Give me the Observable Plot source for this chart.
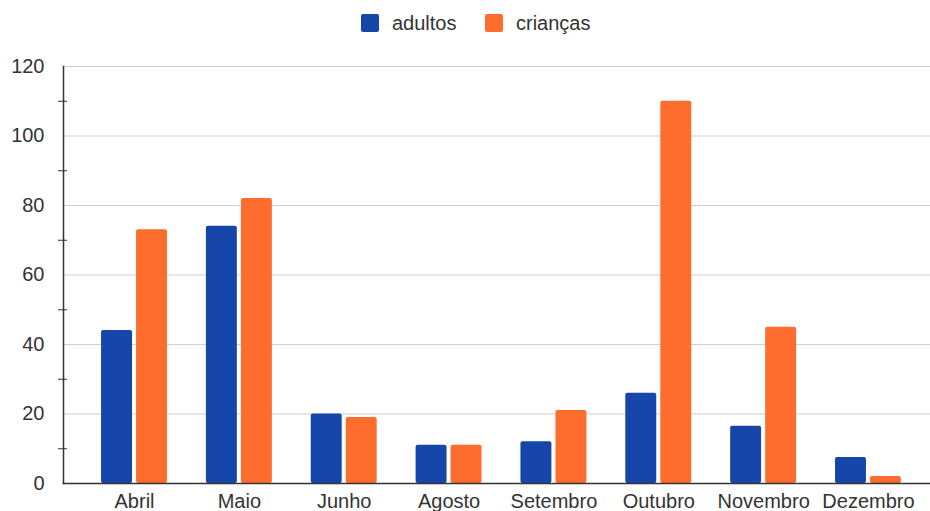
<!DOCTYPE html>
<html>
<head>
<meta charset="utf-8">
<script src="https://cdn.jsdelivr.net/npm/d3@7"></script>
<script src="https://cdn.jsdelivr.net/npm/@observablehq/plot@0.6"></script>
<style>
  body { margin: 0; background: #fff; font-family: "Liberation Sans", Arial, sans-serif; }
  #legend { height: 46px; position: relative; }
  .item { position: absolute; top: 14px; display: flex; align-items: center; font-size: 20px; color: #333; line-height: 18px; }
  .sw { width: 18px; height: 18px; border-radius: 2px; margin-right: 13px; }
</style>
</head>
<body>
<div id="legend"></div>
<div id="chart"></div>
<script>
const months = ["Abril", "Maio", "Junho", "Agosto", "Setembro", "Outubro", "Novembro", "Dezembro"];
const adultos = [44, 74, 20, 11, 12, 26, 16.5, 7.5];
const criancas = [73, 82, 19, 11, 21, 110, 45, 2];
const seriesNames = ["adultos", "crianças"];
const seriesColors = ["#1746ab", "#ff6d2e"];
const majorTicks = [0, 20, 40, 60, 80, 100, 120];
const minorTicks = [10, 30, 50, 70, 90, 110];

const dataA = months.map((m, i) => ({month: m, value: adultos[i]}));
const dataC = months.map((m, i) => ({month: m, value: criancas[i]}));

// legend
const legend = document.getElementById("legend");
const legendLeft = [361, 485];
seriesNames.forEach((s, i) => {
  const it = document.createElement("div");
  it.className = "item";
  it.style.left = legendLeft[i] + "px";
  it.innerHTML = `<div class="sw" style="background:${seriesColors[i]}"></div><span>${s}</span>`;
  legend.appendChild(it);
});

const chart = Plot.plot({
  width: 930,
  height: 465,
  marginTop: 20,
  marginBottom: 28,
  marginLeft: 63,
  marginRight: 0,
  style: {fontFamily: "'Liberation Sans', Arial, sans-serif", fontSize: "20px", color: "#333", background: "#fff"},
  x: {domain: months, paddingInner: 0.371, paddingOuter: 0.32, align: 0.567, round: false},
  y: {domain: [0, 120]},
  marks: [
    Plot.gridY(majorTicks.filter(d => d > 0), {stroke: "#cfcfcf", strokeOpacity: 1, strokeWidth: 1}),
    Plot.barY(dataA, {x: "month", y: "value", fill: seriesColors[0], insetRight: 35, rx: 2}),
    Plot.barY(dataC, {x: "month", y: "value", fill: seriesColors[1], insetLeft: 35, rx: 2}),
    Plot.axisY(majorTicks, {tickSize: 0, tickPadding: 19, fontSize: 20, fill: "#333", label: null}),
    Plot.axisY(minorTicks, {tickSize: 9, dx: 4, text: null, stroke: "#333", label: null}),
    Plot.axisX({tickSize: 0, tickPadding: 10, fontSize: 20, fill: "#333", label: null}),
    Plot.frame({anchor: "left", stroke: "#333", strokeWidth: 1.5}),
    Plot.frame({anchor: "bottom", stroke: "#333", strokeWidth: 1.5})
  ]
});
document.getElementById("chart").appendChild(chart);
</script>
</body>
</html>
